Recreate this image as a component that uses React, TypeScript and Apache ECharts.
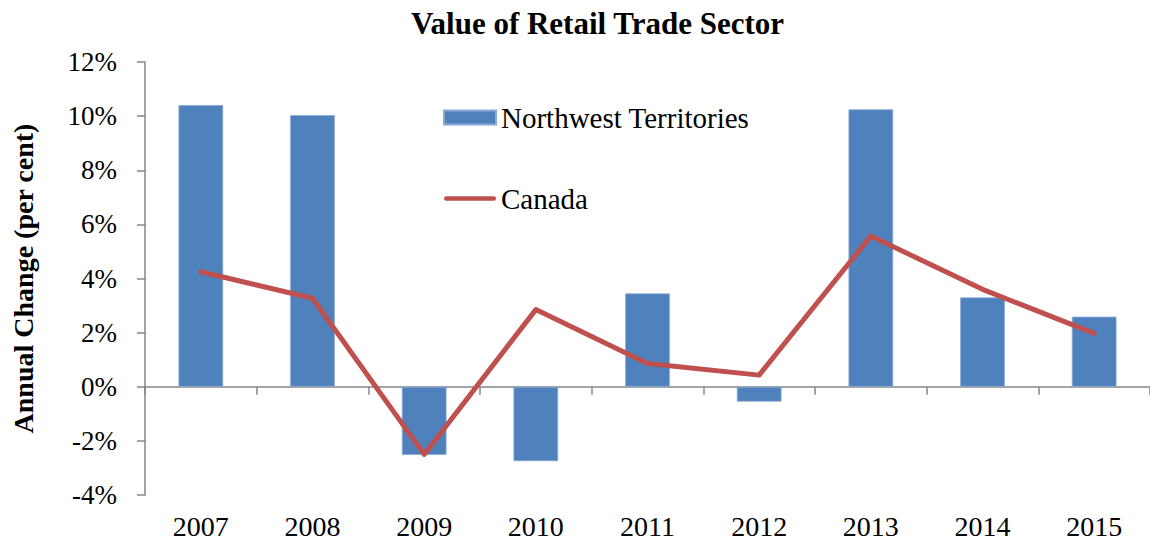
import React, { useEffect, useRef } from "react";
import * as echarts from "echarts";

const categories = ["2007", "2008", "2009", "2010", "2011", "2012", "2013", "2014", "2015"];
const nwtValues = [10.41, 10.04, -2.52, -2.75, 3.45, -0.55, 10.25, 3.3, 2.59];
const canadaValues = [4.25, 3.27, -2.5, 2.85, 0.86, 0.43, 5.57, 3.6, 1.97];
const yTicks = { min: -4, max: 12, interval: 2 };

const FONT = "'Liberation Serif', 'DejaVu Serif', serif";
const LINE_ICON =
  "path://M0,0 L0.05,0 L0.05,0.05 Z M1,4.5 L51,4.5 A2.5,2.5 0 0 1 51,9.5 L1,9.5 A2.5,2.5 0 0 1 1,4.5 Z M51.95,13.95 L52,14 L51.95,14 Z";

export default function App() {
  const ref = useRef<HTMLDivElement>(null);
  useEffect(() => {
    if (!ref.current) return;
    const chart = echarts.init(ref.current, undefined, { renderer: "svg" });
    chart.setOption({
      animation: false,
      backgroundColor: "#ffffff",
      title: {
        text: "Value of Retail Trade Sector",
        left: 406,
        top: 3,
        textStyle: { fontFamily: FONT, fontWeight: "bold", fontSize: 31, color: "#000" },
      },
      legend: {
        orient: "vertical",
        left: 443,
        top: 103,
        padding: 0,
        itemWidth: 52,
        itemHeight: 14,
        itemGap: 52,
        textStyle: { fontFamily: FONT, fontSize: 29, color: "#000" },
        data: [
          { name: "Northwest Territories", icon: "rect" },
          { name: "Canada", icon: LINE_ICON },
        ],
      },
      grid: { left: 145, right: -8, top: 62, bottom: 47, containLabel: false },
      xAxis: [
        {
          type: "category",
          data: categories,
          axisLine: { onZero: true, lineStyle: { color: "#868686", width: 1.5 } },
          axisTick: { show: true, length: 8, lineStyle: { color: "#868686", width: 1.5 } },
          axisLabel: { show: false },
        },
        {
          type: "category",
          data: categories,
          position: "bottom",
          axisLine: { show: false, onZero: false },
          axisTick: { show: false },
          axisLabel: { fontFamily: FONT, fontSize: 28, color: "#000", margin: 17 },
        },
      ],
      yAxis: {
        type: "value",
        min: yTicks.min,
        max: yTicks.max,
        interval: yTicks.interval,
        name: "Annual Change (per cent)",
        nameLocation: "middle",
        nameGap: 108,
        nameTextStyle: { fontFamily: FONT, fontWeight: "bold", fontSize: 28, color: "#000" },
        axisLine: { show: true, lineStyle: { color: "#868686", width: 1.5 } },
        axisTick: { show: true, length: 8, lineStyle: { color: "#868686", width: 1.5 } },
        splitLine: { show: false },
        axisLabel: {
          fontFamily: FONT,
          fontSize: 27,
          color: "#000",
          margin: 28,
          formatter: (v: number) => `${v}%`,
        },
      },
      series: [
        {
          name: "Northwest Territories",
          type: "bar",
          data: nwtValues,
          barWidth: "40%",
          itemStyle: { color: "#4F81BD", borderColor: "#8aaad6", borderWidth: 0.8 },
        },
        {
          name: "Canada",
          type: "line",
          data: canadaValues,
          symbol: "none",
          lineStyle: { color: "#C0504D", width: 5, cap: "round", join: "round" },
          itemStyle: { color: "#C0504D" },
        },
      ],
    });
    return () => chart.dispose();
  }, []);
  return (
    <div
      ref={ref}
      style={{ position: "fixed", left: 0, top: 0, width: 1150, height: 542, background: "#fff" }}
    />
  );
}
